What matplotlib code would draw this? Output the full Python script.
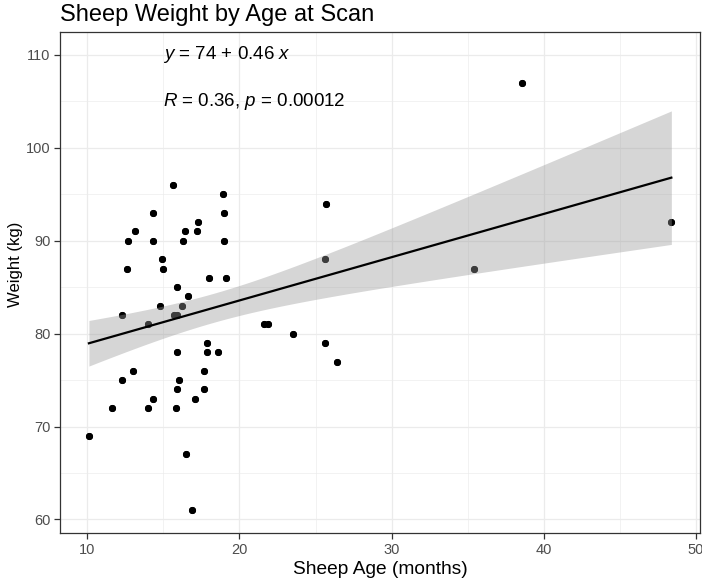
import numpy as np
import matplotlib.pyplot as plt
from matplotlib.ticker import MultipleLocator

plt.rcParams['font.family'] = ['Liberation Sans', 'DejaVu Sans']
plt.rcParams['mathtext.fontset'] = 'custom'
plt.rcParams['mathtext.rm'] = 'Liberation Sans'
plt.rcParams['mathtext.it'] = 'Liberation Sans:italic'

# sheep age (months) and weight (kg)
age = [10.1, 11.6, 12.3, 12.3, 12.6, 12.65, 13.0, 13.1, 14.0, 14.0,
       14.3, 14.3, 14.3, 14.8, 14.9, 15.0, 15.6, 15.7, 15.9, 15.8,
       15.9, 15.9, 15.9, 16.0, 16.2, 16.3, 16.4, 16.5, 16.6, 16.85,
       17.1, 17.2, 17.3, 17.7, 17.7, 17.85, 17.85, 18.0, 18.6, 18.9,
       19.0, 19.0, 19.1, 21.6, 21.9, 23.5, 25.6, 25.6, 25.7, 26.4,
       35.4, 38.6, 48.4]
weight = [69, 72, 82, 75, 87, 90, 76, 91, 81, 72,
          93, 90, 73, 83, 88, 87, 96, 82, 82, 72,
          85, 78, 74, 75, 83, 90, 91, 67, 84, 61,
          73, 91, 92, 76, 74, 79, 78, 86, 78, 95,
          93, 90, 86, 81, 81, 80, 88, 79, 94, 77,
          87, 107, 92]
# sheep hidden behind each dot (R = 0.36 with p = 0.00012 means ~106 sheep)
count = [2, 2, 2, 2, 2, 2, 2, 2, 2, 2,
         2, 2, 2, 2, 2, 2, 2, 2, 2, 2,
         2, 2, 2, 2, 2, 2, 2, 2, 2, 2,
         2, 2, 2, 2, 2, 2, 2, 2, 2, 2,
         2, 2, 2, 2, 2, 2, 2, 2, 2, 2,
         2, 2, 2]

eq_label = r'$\it{y}$ = 74 + 0.46 $\it{x}$'
r_label = r'$\it{R}$ = 0.36, $\it{p}$ = 0.00012'

x = np.repeat(age, count)
y = np.repeat(weight, count)
n = len(x)

# linear fit with 95% confidence band, like geom_smooth(method = "lm")
slope, intercept = np.polyfit(x, y, 1)
xs = np.linspace(x.min(), x.max(), 80)
fit = intercept + slope * xs
resid = y - (intercept + slope * x)
s = np.sqrt(np.sum(resid ** 2) / (n - 2))
se = s * np.sqrt(1 / n + (xs - x.mean()) ** 2 / np.sum((x - x.mean()) ** 2))
t975 = 1.983
lo = fit - t975 * se
hi = fit + t975 * se

fig = plt.figure(figsize=(7.02, 5.85), dpi=100)
ax = fig.add_axes([0.0855, 0.089, 0.912, 0.856])

ax.scatter(x, y, s=26, color='black', linewidths=0, zorder=2)
ax.fill_between(xs, lo, hi, color='#999999', alpha=0.4, linewidth=0, zorder=3)
ax.plot(xs, fit, color='black', linewidth=1.6, zorder=4)

ax.text(15, 110, eq_label, fontsize=13.5, color='black', ha='left', va='center')
ax.text(15, 105, r_label, fontsize=13.5, color='black', ha='left', va='center')

ax.set_xlim(8.2, 50.3)
ax.set_ylim(58.55, 112.45)
ax.xaxis.set_major_locator(MultipleLocator(10))
ax.xaxis.set_minor_locator(MultipleLocator(5))
ax.yaxis.set_major_locator(MultipleLocator(10))
ax.yaxis.set_minor_locator(MultipleLocator(5))

ax.grid(True, which='major', color='#EBEBEB', linewidth=0.9, zorder=0)
ax.grid(True, which='minor', color='#EBEBEB', linewidth=0.45, zorder=0)
ax.set_axisbelow(True)
for sp in ax.spines.values():
    sp.set_color('#333333')
    sp.set_linewidth(0.9)
ax.tick_params(which='major', length=4, width=0.9, color='#333333',
               labelsize=10.5, labelcolor='#4D4D4D', pad=3)
ax.tick_params(which='minor', length=0)

ax.set_xlabel('Sheep Age (months)', fontsize=13.8, color='black', labelpad=3)
ax.set_ylabel('Weight (kg)', fontsize=12, color='black')
ax.yaxis.set_label_coords(-0.058, 0.537)
ax.set_title('Sheep Weight by Age at Scan', fontsize=17, loc='left', pad=8)

fig.savefig('out.png', dpi=100)
